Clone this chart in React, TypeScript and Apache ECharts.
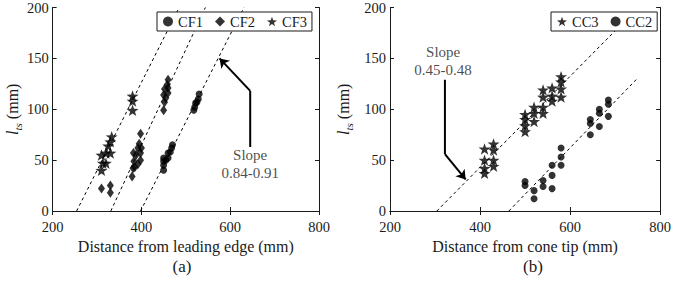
import React, { useEffect, useRef } from "react";
import * as echarts from "echarts";

// ---------- data ----------
const xTicks = [200, 400, 600, 800];
const yTicks = [0, 50, 100, 150, 200];

// (a) leading edge
const cf1X = [450, 450, 450, 455, 450, 460, 460, 465, 468, 470, 518, 520, 522, 525, 528, 530];
const cf1Y = [40, 45, 49, 50, 52, 52, 57, 58, 62, 65, 99, 102, 106, 107, 110, 115];
const cf2X = [310, 330, 330, 379, 381, 383, 382, 388, 392, 395, 398, 398, 400, 392, 398, 385, 450, 452, 455, 450, 460, 452, 460, 458, 460];
const cf2Y = [22, 18, 25, 34, 42, 49, 57, 55, 62, 66, 50, 57, 62, 46, 76, 43, 99, 107, 111, 114, 116, 120, 121, 124, 129];
const cf3X = [310, 313, 320, 310, 320, 330, 325, 330, 333, 380, 380, 380];
const cf3Y = [40, 47, 47, 55, 57, 57, 64, 68, 73, 99, 108, 113];
const fitA = [[254, 0], [485, 200]];
const fitB = [[331, 0], [544, 200]];
const fitC = [[398, 0], [631, 200]];
const arrowA = [[645, 63], [645, 118], [576, 150]];
const slopeA = { x: 645, y: 46, text: "Slope\n0.84-0.91" };

// (b) cone tip
const cc3X = [410, 410, 410, 410, 430, 430, 430, 430, 500, 500, 500, 500, 520, 520, 520, 540, 540, 540, 540, 560, 560, 560, 580, 580, 580, 580];
const cc3Y = [37, 42, 50, 61, 44, 50, 60, 66, 78, 84, 90, 95, 88, 96, 102, 96, 102, 112, 119, 108, 113, 121, 112, 120, 127, 132];
const cc2X = [500, 500, 520, 520, 540, 540, 560, 560, 560, 580, 580, 580, 645, 645, 645, 665, 665, 665, 685, 685, 685];
const cc2Y = [29, 25, 20, 12, 30, 24, 45, 35, 22, 62, 53, 45, 90, 86, 75, 100, 96, 83, 109, 105, 93];
const fitD = [[304, 0], [720, 186]];
const fitE = [[464, 0], [751, 131]];
const arrowB = [[322, 129], [322, 56], [368, 31]];
const slopeB = { x: 318, y: 147, text: "Slope\n0.45-0.48" };

// ---------- styling ----------
const FONT = '"Liberation Serif", "Times New Roman", serif';
const INK = "#1a1a1a";
const STAR = "path://M0,-10 L2.35,-3.24 L9.51,-3.09 L3.8,1.24 L5.88,8.09 L0,4 L-5.88,8.09 L-3.8,1.24 L-9.51,-3.09 L-2.35,-3.24 Z";

const zip = (xs: number[], ys: number[]) => xs.map((x, i) => [x, ys[i]]);

function axes(gridIndex: number, xName: string, yNameGap: number) {
  const line = { show: true, lineStyle: { color: INK, width: 1 } };
  const tick = { show: true, inside: true, length: 4, lineStyle: { color: INK, width: 1 } };
  const base = { type: "value" as const, gridIndex, splitLine: { show: false } };
  const xa = {
    ...base,
    min: xTicks[0],
    max: xTicks[xTicks.length - 1],
    interval: xTicks[1] - xTicks[0],
  };
  const ya = {
    ...base,
    min: yTicks[0],
    max: yTicks[yTicks.length - 1],
    interval: yTicks[1] - yTicks[0],
  };
  return {
    x: [
      {
        ...xa,
        position: "bottom",
        name: xName,
        nameLocation: "middle",
        nameGap: 23,
        nameTextStyle: { fontFamily: FONT, fontSize: 16, color: INK },
        axisLine: line,
        axisTick: tick,
        axisLabel: { fontFamily: FONT, fontSize: 14.5, color: INK, margin: 8 },
      },
      { ...xa, position: "top", axisLine: line, axisTick: tick, axisLabel: { show: false } },
    ],
    y: [
      {
        ...ya,
        position: "left",
        name: "{it|l}{sub|ts} (mm)",
        nameLocation: "middle",
        nameGap: yNameGap,
        nameTextStyle: {
          fontFamily: FONT,
          fontSize: 16,
          color: INK,
          lineHeight: 22,
          rich: {
            it: { fontFamily: FONT, fontStyle: "italic", fontSize: 16, color: INK, lineHeight: 22 },
            sub: { fontFamily: FONT, fontStyle: "italic", fontSize: 11, color: INK, verticalAlign: "bottom", lineHeight: 14 },
          },
        },
        axisLine: line,
        axisTick: tick,
        axisLabel: { fontFamily: FONT, fontSize: 14.5, color: INK, margin: 4, verticalAlign: "middle" },
      },
      { ...ya, position: "right", axisLine: line, axisTick: tick, axisLabel: { show: false } },
    ],
  };
}

function scatter(name: string, data: number[][], xi: number, yi: number, symbol: string, size: any) {
  return {
    type: "scatter",
    name,
    xAxisIndex: xi,
    yAxisIndex: yi,
    data,
    symbol,
    symbolSize: size,
    symbolKeepAspect: true,
    itemStyle: { color: "#000" },
    silent: true,
    z: 3,
  };
}

function fit(data: number[][], xi: number, yi: number) {
  return {
    type: "line",
    xAxisIndex: xi,
    yAxisIndex: yi,
    data,
    symbol: "none",
    silent: true,
    lineStyle: { color: "#000", width: 1, type: [3, 3] },
    z: 2,
  };
}

// annotation arrow: a plain segment followed by a segment ending in an arrow head
function arrow(coords: number[][], xi: number, yi: number) {
  const shaft = {
    type: "line",
    xAxisIndex: xi,
    yAxisIndex: yi,
    data: coords.slice(0, coords.length - 1),
    symbol: "none",
    silent: true,
    lineStyle: { color: "#000", width: 2 },
    z: 4,
  };
  const head = {
    type: "lines",
    coordinateSystem: "cartesian2d",
    xAxisIndex: xi,
    yAxisIndex: yi,
    silent: true,
    symbol: ["none", "arrow"],
    symbolSize: 9,
    lineStyle: { color: "#000", width: 2, opacity: 1 },
    itemStyle: { color: "#000" },
    data: [{ coords: coords.slice(coords.length - 2) }],
    z: 4,
  };
  return [shaft, head];
}

function note(n: { x: number; y: number; text: string }, xi: number, yi: number) {
  return {
    type: "scatter",
    xAxisIndex: xi,
    yAxisIndex: yi,
    data: [[n.x, n.y]],
    symbolSize: 1,
    itemStyle: { color: "rgba(0,0,0,0)" },
    silent: true,
    label: {
      show: true,
      position: "inside",
      formatter: n.text,
      fontFamily: FONT,
      fontSize: 15,
      lineHeight: 18,
      color: INK,
      align: "center",
    },
    z: 5,
  };
}

const legendBase = {
  orient: "horizontal",
  top: 12,
  itemWidth: 10,
  itemHeight: 10,
  itemGap: 12,
  padding: [2, 5, 2, 6],
  borderColor: INK,
  borderWidth: 1,
  backgroundColor: "#fff",
  selectedMode: false,
  textStyle: { fontFamily: FONT, fontSize: 14.5, color: INK },
  z: 10,
};

export default function App() {
  const ref = useRef<HTMLDivElement>(null);
  useEffect(() => {
    if (!ref.current) return;
    const chart = echarts.init(ref.current, undefined, { renderer: "svg" });
    const a = axes(0, "Distance from leading edge (mm)", 29);
    const b = axes(1, "Distance from cone tip (mm)", 36);
    chart.setOption({
      animation: false,
      grid: [
        { left: 44, top: 7, width: 275, height: 204 },
        { left: 390, top: 7, width: 274, height: 204 },
      ],
      xAxis: [...a.x, ...b.x],
      yAxis: [...a.y, ...b.y],
      legend: [
        {
          ...legendBase,
          left: 157,
          data: [
            { name: "CF1", icon: "circle" },
            { name: "CF2", icon: "diamond" },
            { name: "CF3", icon: STAR },
          ],
        },
        {
          ...legendBase,
          left: 551,
          data: [
            { name: "CC3", icon: STAR },
            { name: "CC2", icon: "circle" },
          ],
        },
      ],
      graphic: [
        { type: "text", x: 182, y: 266, style: { text: "(a)", font: `17px ${FONT}`, fill: INK, align: "center", verticalAlign: "middle" } },
        { type: "text", x: 533, y: 266, style: { text: "(b)", font: `17px ${FONT}`, fill: INK, align: "center", verticalAlign: "middle" } },
      ],
      series: [
        fit(fitA, 0, 0),
        fit(fitB, 0, 0),
        fit(fitC, 0, 0),
        scatter("CF1", zip(cf1X, cf1Y), 0, 0, "circle", 7),
        scatter("CF2", zip(cf2X, cf2Y), 0, 0, "diamond", [7, 10]),
        scatter("CF3", zip(cf3X, cf3Y), 0, 0, STAR, 12),
        ...arrow(arrowA, 0, 0),
        note(slopeA, 0, 0),
        fit(fitD, 2, 2),
        fit(fitE, 2, 2),
        scatter("CC3", zip(cc3X, cc3Y), 2, 2, STAR, 12),
        scatter("CC2", zip(cc2X, cc2Y), 2, 2, "circle", 7),
        ...arrow(arrowB, 2, 2),
        note(slopeB, 2, 2),
      ],
    });
    return () => chart.dispose();
  }, []);
  return <div ref={ref} style={{ width: 674, height: 281, position: "absolute", left: 0, top: 0, background: "#fff" }} />;
}
